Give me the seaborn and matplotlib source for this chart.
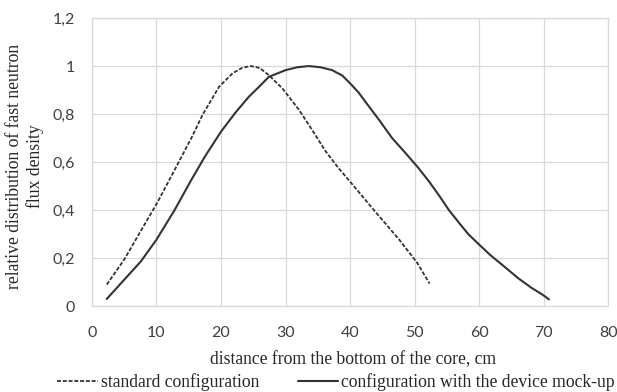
import matplotlib
matplotlib.use("Agg")
import matplotlib.pyplot as plt
from matplotlib.lines import Line2D
import pandas as pd
import seaborn as sns

# standard configuration (dashed)
x_standard = [2.3, 5.0, 7.5, 10.1, 12.8, 15.4, 17.2, 19.7, 21.8, 23.3, 24.6,
              26.0, 27.4, 29.5, 32.1, 34.2, 36.2, 38.2, 40.1, 44.0, 47.6, 50.4, 52.3]
y_standard = [0.09, 0.194, 0.31, 0.43, 0.567, 0.70, 0.80, 0.914, 0.97, 0.993, 1.0,
              0.992, 0.962, 0.907, 0.817, 0.73, 0.645, 0.575, 0.515, 0.39, 0.277,
              0.18, 0.094]

# configuration with the device mock-up (solid)
x_mockup = [2.3, 5.0, 7.6, 10.0, 12.8, 15.4, 17.5, 20.0, 22.2, 24.3, 25.9, 27.4,
            30.0, 31.8, 33.6, 35.4, 37.2, 38.8, 40.1, 41.3, 42.4, 44.5, 46.5,
            48.5, 50.5, 52.2, 53.8, 55.3, 56.9, 58.3, 59.8, 61.7, 63.6, 66.1,
            68.0, 69.9, 70.8]
y_mockup = [0.03, 0.11, 0.187, 0.277, 0.40, 0.526, 0.623, 0.727, 0.805, 0.872,
            0.914, 0.955, 0.983, 0.995, 1.0, 0.995, 0.983, 0.96, 0.925, 0.89,
            0.85, 0.775, 0.70, 0.64, 0.578, 0.52, 0.46, 0.40, 0.346, 0.30, 0.261,
            0.213, 0.171, 0.115, 0.078, 0.046, 0.028]

series_names = ["standard configuration", "configuration with the device mock-up"]
x_ticks = [0, 10, 20, 30, 40, 50, 60, 70, 80]
y_ticks = [0, 0.2, 0.4, 0.6, 0.8, 1.0, 1.2]
y_tick_labels = ["0", "0,2", "0,4", "0,6", "0,8", "1", "1,2"]

df_standard = pd.DataFrame({"x": x_standard, "y": y_standard})
df_mockup = pd.DataFrame({"x": x_mockup, "y": y_mockup})

sns.set_style("whitegrid")
plt.rcParams["font.family"] = ["Lato", "DejaVu Sans"]

ink = "#333333"
grid_col = "#d9d9d9"
serif = ["Liberation Serif", "DejaVu Serif"]
dash = (0, (2.2, 1.0))

fig, ax = plt.subplots(figsize=(6.17, 3.92), dpi=100)
fig.subplots_adjust(left=0.149, right=0.986, top=0.954, bottom=0.219)

sns.lineplot(data=df_standard, x="x", y="y", ax=ax, color=ink, lw=1.3,
             linestyle=dash, legend=False)
sns.lineplot(data=df_mockup, x="x", y="y", ax=ax, color=ink, lw=1.5,
             legend=False)

ax.set_xlim(0, 80)
ax.set_ylim(0, 1.2)
ax.set_xticks(x_ticks)
ax.set_yticks(y_ticks)
ax.set_yticklabels(y_tick_labels)
ax.set_xlabel("")
ax.set_ylabel("")
ax.grid(True, color=grid_col, lw=0.9)
for s in ax.spines.values():
    s.set_color(grid_col)
    s.set_linewidth(0.9)
ax.tick_params(axis="both", length=0, labelsize=11.5, labelcolor="#404040")
ax.tick_params(axis="x", pad=14)
ax.tick_params(axis="y", pad=12)

fig.text(25 / 617, 1 - 166 / 392,
         "relative distribution of fast neutron\nflux density",
         rotation=90, ha="center", va="center", multialignment="center",
         family=serif, fontsize=12.7, color="#262626", linespacing=1.22)
fig.text(353 / 617, 1 - 360 / 392, "distance from the bottom of the core, cm",
         ha="center", va="center", family=serif, fontsize=12.7, color="#262626")

handles = [Line2D([], [], color=ink, lw=1.3, linestyle=dash),
           Line2D([], [], color=ink, lw=1.5)]
fig.legend(handles, series_names, loc="center",
           bbox_to_anchor=(336 / 617, 1 - 382 / 392), ncol=2, frameon=False,
           prop={"family": serif, "size": 12.7}, handlelength=2.3,
           handletextpad=0.15, columnspacing=2.2, labelcolor="#262626",
           borderpad=0.1, borderaxespad=0)

fig.savefig("out.png", dpi=100)
